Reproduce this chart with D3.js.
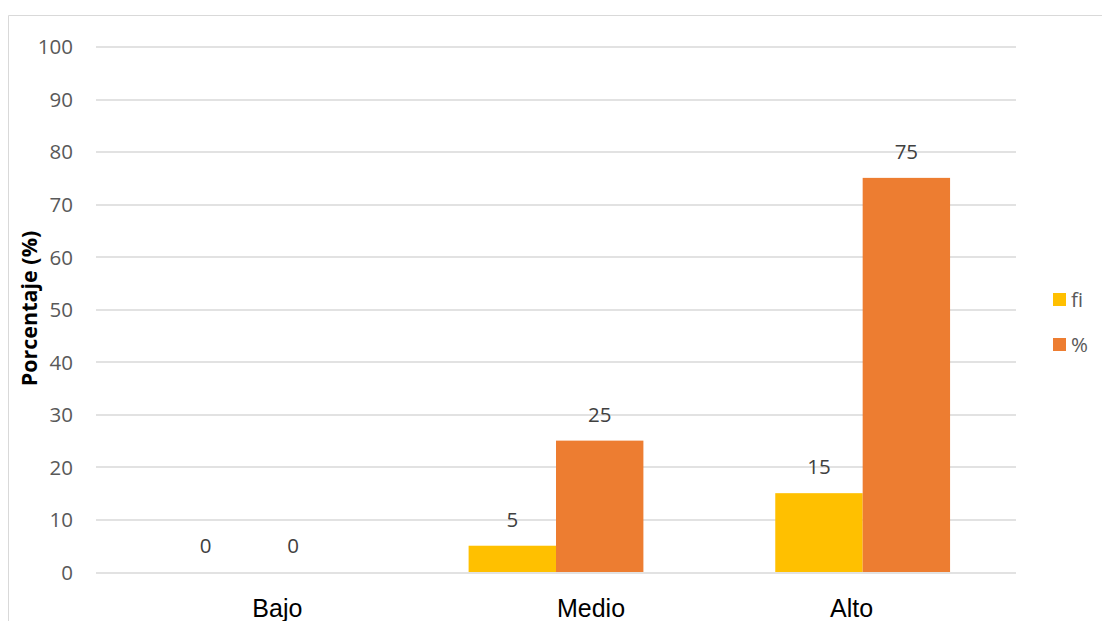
<!DOCTYPE html>
<html>
<head>
<meta charset="utf-8">
<script src="https://cdn.jsdelivr.net/npm/d3@7"></script>
<style>
  html, body { margin: 0; padding: 0; background: #fff; }
  svg { display: block; }
</style>
</head>
<body>
<svg id="chart" width="1102" height="621"></svg>
<script>
// Niveles y series
const categories = ["Bajo", "Medio", "Alto"];
const seriesNames = ["fi", "%"];
const fiValues = [0, 5, 15];
const pctValues = [0, 25, 75];
const yTicks = [0, 10, 20, 30, 40, 50, 60, 70, 80, 90, 100];

const colors = { "fi": "#FFC000", "%": "#ED7D31" };

const W = 1102, H = 621;
const margin = { left: 96, right: 86, top: 46.5, bottom: 49 };
const plotW = W - margin.left - margin.right;
const plotH = H - margin.top - margin.bottom;

// horizontal nudges of the category captions
const catLabelDx = [28, 35, -11];

const svg = d3.select("#chart");

// chart frame
svg.append("path")
  .attr("d", `M8.5,${H} L8.5,15.5 L${W},15.5`)
  .attr("fill", "none")
  .attr("stroke", "#d9d9d9")
  .attr("stroke-width", 1);

const g = svg.append("g").attr("transform", `translate(${margin.left},${margin.top})`);

const x0 = d3.scaleBand().domain(categories).range([0, plotW]).paddingInner(0.43).paddingOuter(0.215);
const x1 = d3.scaleBand().domain(seriesNames).range([0, x0.bandwidth()]).padding(0);
const y = d3.scaleLinear().domain([0, 100]).range([plotH, 0]);

// gridlines
g.append("g")
  .selectAll("line")
  .data(yTicks)
  .join("line")
  .attr("x1", 0).attr("x2", plotW)
  .attr("y1", d => Math.round(y(d)) + 0.5)
  .attr("y2", d => Math.round(y(d)) + 0.5)
  .attr("stroke", "#d9d9d9")
  .attr("stroke-width", 1.3);

// y axis tick labels
const yAxis = d3.axisLeft(y).tickValues(yTicks).tickSize(0).tickPadding(23);
const ya = g.append("g").call(yAxis);
ya.select(".domain").remove();
ya.selectAll("text")
  .attr("font-family", "'Open Sans', sans-serif")
  .attr("font-size", 20.5)
  .attr("fill", "#595959")
  .attr("dy", "0.36em");

// y axis title
svg.append("text")
  .attr("transform", `translate(37,${308.5}) rotate(-90)`)
  .attr("text-anchor", "middle")
  .attr("font-family", "'Open Sans', sans-serif")
  .attr("font-weight", "bold")
  .attr("font-size", 21.5)
  .attr("fill", "#000")
  .text("Porcentaje (%)");

// bars
const rows = categories.map((c, i) => ({ cat: c, values: [
  { key: "fi", value: fiValues[i] },
  { key: "%", value: pctValues[i] }
]}));

const groups = g.selectAll(".grp")
  .data(rows)
  .join("g")
  .attr("class", "grp")
  .attr("transform", d => `translate(${x0(d.cat)},0)`);

groups.selectAll("rect")
  .data(d => d.values)
  .join("rect")
  .attr("x", d => x1(d.key))
  .attr("width", x1.bandwidth())
  .attr("y", d => y(d.value))
  .attr("height", d => y(0) - y(d.value))
  .attr("fill", d => colors[d.key]);

// value labels
groups.selectAll("text")
  .data(d => d.values)
  .join("text")
  .attr("x", d => x1(d.key) + x1.bandwidth() / 2)
  .attr("y", d => y(d.value) - 19)
  .attr("text-anchor", "middle")
  .attr("font-family", "'Open Sans', sans-serif")
  .attr("font-size", 20.5)
  .attr("fill", "#404040")
  .text(d => d.value);

// category captions
g.append("g")
  .selectAll("text")
  .data(categories)
  .join("text")
  .attr("x", (d, i) => x0(d) + x0.bandwidth() / 2 + catLabelDx[i])
  .attr("y", plotH + 45)
  .attr("text-anchor", "middle")
  .attr("font-family", "'Liberation Sans', Arial, sans-serif")
  .attr("font-size", 25)
  .attr("fill", "#000")
  .text(d => d);

// legend
const legend = svg.append("g").attr("transform", "translate(1053,293)");
const li = legend.selectAll("g")
  .data(seriesNames)
  .join("g")
  .attr("transform", (d, i) => `translate(0,${i * 45})`);
li.append("rect")
  .attr("width", 13).attr("height", 13)
  .attr("fill", d => colors[d]);
li.append("text")
  .attr("x", 18).attr("y", 6.5)
  .attr("dy", "0.36em")
  .attr("font-family", "'Open Sans', sans-serif")
  .attr("font-size", 20.5)
  .attr("fill", "#595959")
  .text(d => d);
</script>
</body>
</html>
